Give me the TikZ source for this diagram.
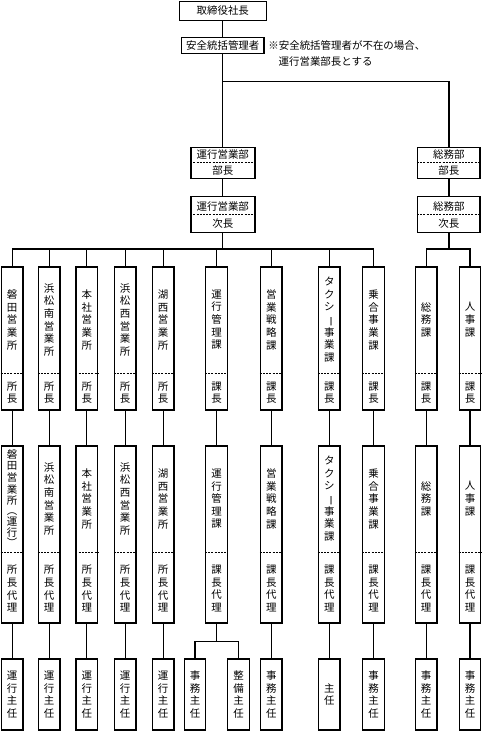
\documentclass[tikz,border=0pt]{standalone}
\usepackage{fontspec}
\usepackage{graphicx}
\setmainfont{Noto Sans CJK JP}
\usetikzlibrary{positioning}
\newcommand\tatemark[1]{\rotatebox[origin=c]{-90}{#1}}

\begin{document}
\begin{tikzpicture}[x=1bp, y=-1bp, line width=1.3bp, font=\fontsize{10.5}{12.6}\selectfont,
  box/.style={draw, line width=1.4bp, inner sep=0pt},
  dept/.style={box, minimum width=64bp},
  col/.style={box, minimum width=21.5bp},
  tate/.style={font=\fontsize{10.5}{12.7}\selectfont, align=center, inner sep=0pt},
  sep/.style={line width=0.9bp, dash pattern=on 2bp off 1.2bp}]
  \useasboundingbox (0,0) rectangle (483,731);
  \coordinate (branch) at (0,81.7);
  \coordinate (bus) at (0,249);
  \coordinate (split) at (0,641.7);

  % top
  \node[box, minimum width=87bp, minimum height=18.5bp] (ceo) at (222.8,11) {取締役社長};
  \node[box, minimum width=82.5bp, minimum height=16bp] (anzen) at (222.8,45.5) {安全統括管理者};
  \node[right=3bp of anzen, inner sep=0pt] (note1) {※安全統括管理者が不在の場合、};
  \node[anchor=west, inner sep=0pt] (note2) at (278,62) {運行営業部長とする};

  % departments
  \node[dept, minimum height=31bp] (ubu) at (222.8,162.7) {};
  \draw[sep] (ubu.west) -- (ubu.east);
  \node[inner sep=0pt] (ubua) at ([yshift=8bp]ubu.center) {運行営業部};
  \node[inner sep=0pt] (ubub) at ([yshift=-7.5bp]ubu.center) {部長};
  \node[dept, minimum height=36bp] (ujicho) at (222.8,214.7) {};
  \draw[sep] (ujicho.west) -- (ujicho.east);
  \node[inner sep=0pt] (ujichoa) at ([yshift=8.5bp]ujicho.center) {運行営業部};
  \node[inner sep=0pt] (ujichob) at ([yshift=-8.5bp]ujicho.center) {次長};
  \node[dept, minimum width=62.3bp, minimum height=31bp] (sbu) at (448.9,162.7) {};
  \draw[sep] (sbu.west) -- (sbu.east);
  \node[inner sep=0pt] (sbua) at ([yshift=8bp]sbu.center) {総務部};
  \node[inner sep=0pt] (sbub) at ([yshift=-7.5bp]sbu.center) {部長};
  \node[dept, minimum width=62.3bp, minimum height=36bp] (sjicho) at (448.9,214.7) {};
  \draw[sep] (sjicho.west) -- (sjicho.east);
  \node[inner sep=0pt] (sjichoa) at ([yshift=8.5bp]sjicho.center) {総務部};
  \node[inner sep=0pt] (sjichob) at ([yshift=-8.5bp]sjicho.center) {次長};

  \draw (ceo) -- (anzen);
  \draw (anzen) -- (ubu);
  \draw (anzen.south |- branch) -| (sbu.north);
  \draw (ubu) -- (ujicho);
  \draw (sbu) -- (sjicho);

  % sections
  \foreach \n/\x/\pa/\na/\ra/\nb/\rb/\ls in {
    1/12.2/ujicho/{磐\\田\\営\\業\\所}/{所\\長}/{磐\\田\\営\\業\\所\\[-1.5bp]\tatemark{（}\\[-1.5bp]運\\行\\[-1.5bp]\tatemark{）}}/{所\\長\\代\\理}/11.7,
    2/49.2/ujicho/{浜\\松\\南\\営\\業\\所}/{所\\長}/{浜\\松\\南\\営\\業\\所}/{所\\長\\代\\理}/12.7,
    3/86.8/ujicho/{本\\社\\営\\業\\所}/{所\\長}/{本\\社\\営\\業\\所}/{所\\長\\代\\理}/12.7,
    4/125.2/ujicho/{浜\\松\\西\\営\\業\\所}/{所\\長}/{浜\\松\\西\\営\\業\\所}/{所\\長\\代\\理}/12.7,
    5/163.2/ujicho/{湖\\西\\営\\業\\所}/{所\\長}/{湖\\西\\営\\業\\所}/{所\\長\\代\\理}/12.7,
    6/216.5/ujicho/{運\\行\\管\\理\\課}/{課\\長}/{運\\行\\管\\理\\課}/{課\\長\\代\\理}/12.7,
    7/271.3/ujicho/{営\\業\\戦\\略\\課}/{課\\長}/{営\\業\\戦\\略\\課}/{課\\長\\代\\理}/12.7,
    8/329.3/ujicho/{タ\\ク\\シ\\\tatemark{ー}\\事\\業\\課}/{課\\長}/{タ\\ク\\シ\\\tatemark{ー}\\事\\業\\課}/{課\\長\\代\\理}/12.7,
    9/373.5/ujicho/{乗\\合\\事\\業\\課}/{課\\長}/{乗\\合\\事\\業\\課}/{課\\長\\代\\理}/12.7,
    10/426.2/sjicho/{総\\務\\課}/{課\\長}/{総\\務\\課}/{課\\長\\代\\理}/12.7,
    11/470/sjicho/{人\\事\\課}/{課\\長}/{人\\事\\課}/{課\\長\\代\\理}/12.7}
  {
    \node[col, minimum height=143bp] (u\n) at (\x,338.5) {};
    \draw[sep] ([yshift=-107bp]u\n.north west) -- ([yshift=-107bp]u\n.north east);
    \node[tate] (ua\n) at ([yshift=-53.5bp]u\n.north) {\na};
    \node[tate] (ur\n) at ([yshift=18bp]u\n.south) {\ra};
    \node[col, minimum height=177bp] (m\n) at (\x,534.5) {};
    \draw[sep] ([yshift=-107bp]m\n.north west) -- ([yshift=-107bp]m\n.north east);
    \node[tate, font=\fontsize{10.5}{\ls}\selectfont] (ma\n) at ([yshift=-53.5bp]m\n.north) {\nb};
    \node[tate] (mr\n) at ([yshift=35bp]m\n.south) {\rb};
    \draw (\pa.south) -- (\pa.south |- bus) -- (u\n.north |- bus) -- (u\n.north);
    \draw (u\n) -- (m\n);
  }

  % chiefs
  \foreach \n/\x/\p/\t in {
    1/12.2/1/{運\\行\\主\\任}, 2/49.2/2/{運\\行\\主\\任}, 3/86.8/3/{運\\行\\主\\任},
    4/125.2/4/{運\\行\\主\\任}, 5/163.2/5/{運\\行\\主\\任}, 6/195/6/{事\\務\\主\\任},
    7/238.5/6/{整\\備\\主\\任}, 8/271.3/7/{事\\務\\主\\任}, 9/329.3/8/{主\\任},
    10/373.5/9/{事\\務\\主\\任}, 11/426.2/10/{事\\務\\主\\任}, 12/470/11/{事\\務\\主\\任}}
  {
    \node[col, tate, minimum height=71bp] (b\n) at (\x,694.5) {\t};
    \draw (m\p.south) -- (m\p.south |- split) -- (b\n.north |- split) -- (b\n.north);
  }
\end{tikzpicture}
\end{document}
